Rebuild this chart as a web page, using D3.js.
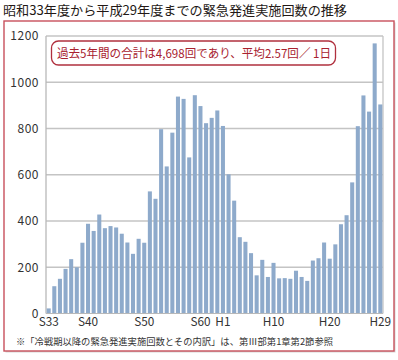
<!DOCTYPE html>
<html><head><meta charset="utf-8">
<script src="https://cdn.jsdelivr.net/npm/d3@7"></script>
<style>
html,body{margin:0;padding:0;background:#fff;}
svg{display:block;font-family:"Noto Sans CJK JP","Noto Sans",sans-serif;}
</style></head>
<body>
<script>
// Fiscal years S33 (1958) .. H29 (2017)
const years = [];
for (let yr = 33; yr <= 63; yr++) years.push("S" + yr);
for (let yr = 1; yr <= 29; yr++) years.push("H" + yr);
const scrambles = [22,118,150,193,235,200,306,388,357,428,369,378,372,345,307,258,323,306,528,496,
  797,636,782,938,928,675,944,897,823,846,878,811,602,488,330,310,261,165,232,158,
  219,152,153,150,185,158,141,229,239,307,237,299,386,425,567,810,943,873,1168,904];
const xTickLabels = ["S33","S40","S50","S60","H1","H10","H20","H29"];
const yTicks = [0,200,400,600,800,1000,1200];
const titleText = "昭和33年度から平成29年度までの緊急発進実施回数の推移";
const noteText = "過去5年間の合計は4,698回であり、平均2.57回／ 1日";
const footText = "※「冷戦期以降の緊急発進実施回数とその内訳」は、第Ⅲ部第1章第2節参照";

(function () {
const W = 398, H = 360;
const svg = d3.select("body").append("svg").attr("width", W).attr("height", H);

// title
svg.append("text").attr("x", 3).attr("y", 15).attr("font-size", 12.8)
  .attr("fill", "#231815").attr("textLength", 344).attr("lengthAdjust", "spacingAndGlyphs")
  .text(titleText);

// outer frame with slight shadow
svg.append("rect").attr("x", 5.5).attr("y", 22.5).attr("width", 390).attr("height", 330)
  .attr("fill", "#d8d8d8");
svg.append("rect").attr("x", 4).attr("y", 21).attr("width", 390).attr("height", 330)
  .attr("fill", "#fff").attr("stroke", "#c8505c").attr("stroke-width", 1.4);

const pL = 46, pR = 383, pT = 36, pB = 313.5;
const x = d3.scaleBand().domain(years).range([pL, pR]).paddingInner(0.28).paddingOuter(0.12);
const y = d3.scaleLinear().domain([0, 1200]).range([pB, pT]);

// gridlines
svg.append("g").selectAll("line").data(yTicks.filter(d => d > 0)).join("line")
  .attr("x1", pL).attr("x2", pR).attr("y1", d => y(d)).attr("y2", d => y(d))
  .attr("stroke", "#c4c4c4").attr("stroke-width", 1.3);
svg.append("line").attr("x1", pR).attr("x2", pR).attr("y1", pT).attr("y2", pB)
  .attr("stroke", "#c4c4c4").attr("stroke-width", 1.3);
svg.append("line").attr("x1", pL).attr("x2", pL).attr("y1", pT).attr("y2", pB)
  .attr("stroke", "#b8b8b8").attr("stroke-width", 1.3);

// bars
svg.append("g").selectAll("rect").data(scrambles).join("rect")
  .attr("x", (d, i) => x(years[i])).attr("width", x.bandwidth())
  .attr("y", d => y(d)).attr("height", d => y(0) - y(d))
  .attr("fill", "#8eaacb");

svg.append("line").attr("x1", pL).attr("x2", pR).attr("y1", pB).attr("y2", pB)
  .attr("stroke", "#b8b8b8").attr("stroke-width", 1);

// y axis
const ya = svg.append("g").attr("transform", `translate(${pL},0)`)
  .call(d3.axisLeft(y).tickValues(yTicks).tickSize(0).tickPadding(7).tickFormat(d3.format("d")));
ya.select(".domain").remove();
ya.selectAll("text").attr("font-size", 12).attr("letter-spacing", 0.5).attr("fill", "#333")
  .attr("font-family", "\"Noto Sans CJK JP\",sans-serif");

// x axis
const xa = svg.append("g").attr("transform", `translate(0,${pB})`)
  .call(d3.axisBottom(x).tickValues(xTickLabels).tickSize(0).tickPadding(4));
xa.select(".domain").remove();
xa.selectAll("text").attr("font-size", 11.8).attr("fill", "#333")
  .attr("font-family", "\"Noto Sans CJK JP\",sans-serif");

// annotation box
svg.append("rect").attr("x", 51.5).attr("y", 41).attr("width", 284).attr("height", 24)
  .attr("rx", 7).attr("fill", "#fff").attr("stroke", "#b0303e").attr("stroke-width", 1.3);
svg.append("text").attr("x", 57).attr("y", 57.5)
  .attr("font-size", 12).attr("fill", "#a8222f")
  .attr("textLength", 274).attr("lengthAdjust", "spacingAndGlyphs").text(noteText);

// footnote
svg.append("text").attr("x", 16).attr("y", 345).attr("font-size", 9.4)
  .attr("fill", "#333").attr("textLength", 317).attr("lengthAdjust", "spacingAndGlyphs")
  .text(footText);
})();
</script>
</body></html>
